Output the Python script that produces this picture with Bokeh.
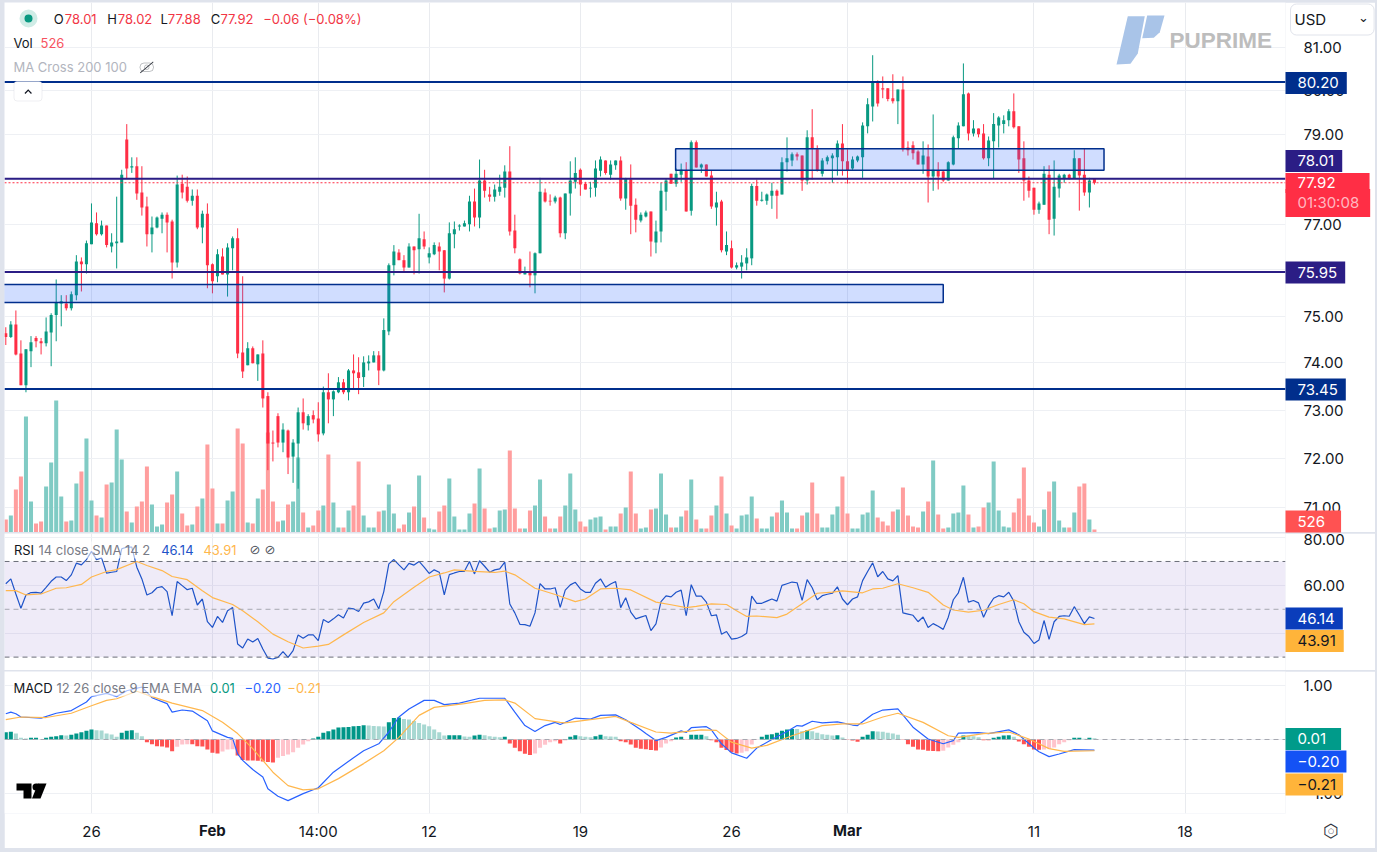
from bokeh.plotting import figure
from bokeh.layouts import column
from bokeh.embed import file_html
from bokeh.resources import INLINE
from bokeh.models import (Range1d, FixedTicker, NumeralTickFormatter, Span, Label, LinearScale,
                          BoxAnnotation, PolyAnnotation, ColumnDataSource)

# ---------- candles (WTI, 4-hour bars) ----------
opens = [74.63,74.55,74.82,74.20,73.53,74.25,74.53,74.46,74.42,74.65,
75.02,75.27,75.27,75.17,75.45,76.18,76.12,76.56,77.02,76.78,
76.97,76.51,76.58,76.60,78.89,78.26,78.29,77.70,77.39,76.78,
76.93,77.12,77.21,77.06,76.16,77.90,77.83,77.52,77.63,76.93,
77.23,76.12,75.86,76.29,75.90,76.47,76.69,74.22,73.95,74.31,
73.97,74.20,73.30,72.33,72.88,72.33,72.58,72.04,72.31,72.96,
72.69,72.90,72.83,72.52,73.38,73.23,73.38,73.59,73.38,73.84,
73.80,73.70,73.99,74.01,74.16,73.84,74.67,76.10,76.38,76.21,
76.05,76.51,76.45,76.67,76.27,76.34,76.51,76.43,75.81,76.78,
76.95,76.95,77.00,77.50,77.15,77.97,77.66,77.61,77.72,77.81,
78.17,76.86,76.23,75.90,75.96,75.88,76.36,77.70,77.52,77.50,
77.59,76.80,77.68,77.94,78.21,77.90,77.79,77.81,78.19,78.42,
78.10,78.31,78.42,77.57,77.99,77.43,77.08,77.17,77.28,76.60,
76.84,77.72,78.12,77.90,78.10,78.19,77.30,78.83,78.26,78.33,
78.08,77.37,77.50,76.40,76.47,76.05,76.07,76.14,76.25,77.85,
77.52,77.52,77.63,77.74,77.66,78.38,78.42,78.56,78.53,77.97,
78.94,78.67,78.12,78.40,78.47,78.49,78.80,78.40,78.24,78.42,
78.49,79.19,79.64,80.19,80.06,80.06,79.83,79.76,80.03,78.71,
78.76,78.62,78.33,78.51,78.06,78.19,78.17,77.97,78.33,78.92,
79.19,79.94,79.03,79.14,79.03,78.47,78.85,79.21,79.24,79.33,
79.53,79.19,78.47,77.97,77.81,77.32,77.43,78.10,77.12,77.79,
78.01,78.10,78.01,78.47,78.10,77.70,78.01]
highs = [74.76,74.89,75.12,74.48,74.29,74.57,74.57,74.53,74.97,75.06,
75.79,75.45,75.45,75.53,76.32,76.27,76.64,77.46,77.26,77.08,
76.97,76.80,77.61,78.21,79.24,78.49,78.49,78.29,77.61,77.17,
77.17,77.26,77.26,77.10,78.08,78.10,78.06,77.77,77.77,77.30,
77.46,76.14,76.45,76.47,76.58,76.73,76.91,75.86,74.44,74.35,
74.18,74.48,73.38,72.58,72.94,72.73,72.60,72.40,73.06,73.25,
72.92,73.00,73.17,73.50,73.78,73.42,73.70,73.66,73.87,74.18,
74.12,74.14,74.16,74.25,74.25,74.95,76.14,76.54,76.45,76.32,
76.58,76.51,77.23,76.84,76.49,76.60,76.60,76.43,77.04,77.06,
77.00,77.08,77.63,77.79,78.44,78.21,77.83,77.88,78.10,78.31,
78.74,77.21,76.25,76.07,76.40,76.38,78.03,77.79,77.66,77.63,
77.61,77.68,78.40,78.49,78.24,77.94,77.94,78.42,78.51,78.42,
78.42,78.42,78.51,78.03,78.33,77.57,77.26,77.30,77.28,77.08,
77.92,78.01,78.12,78.24,78.35,78.38,78.87,78.87,78.35,78.33,
78.19,77.72,77.54,76.84,76.64,76.16,76.32,76.47,77.90,77.99,
77.72,77.68,77.92,77.77,78.49,78.94,78.60,78.60,78.53,79.10,
79.58,78.76,78.47,78.53,78.58,78.87,79.24,78.67,78.51,78.53,
79.28,79.83,80.82,80.24,80.33,80.06,80.38,80.03,80.33,78.85,
78.85,78.65,78.85,78.78,79.46,78.38,78.19,78.40,78.98,79.28,
80.63,79.96,79.33,79.14,79.24,78.96,79.49,79.42,79.44,79.58,
79.94,79.19,78.85,78.06,77.81,77.50,78.29,78.31,78.42,78.12,
78.12,78.12,78.65,78.47,78.69,78.03,78.02]
lows = [74.38,74.53,74.16,73.53,73.38,73.91,74.33,74.18,74.35,73.93,
74.46,74.78,75.12,75.12,75.34,75.53,75.92,76.56,76.75,76.75,
76.49,76.38,76.03,76.60,78.01,78.14,77.54,77.19,76.51,76.38,
76.91,76.80,76.38,75.81,76.05,77.57,77.48,77.41,76.89,76.58,
75.60,75.49,75.73,75.90,75.42,75.99,74.10,73.68,73.95,73.99,
73.62,73.06,71.76,71.94,72.23,72.13,71.68,71.50,71.38,72.60,
72.58,72.73,72.35,72.48,72.73,72.88,73.36,73.34,73.21,73.45,
73.34,73.49,73.84,74.01,73.53,73.82,74.59,75.88,76.21,75.94,
76.05,75.90,75.92,76.45,76.14,76.32,75.99,75.51,75.79,76.47,
76.86,76.95,76.84,76.95,76.91,77.59,77.50,77.50,77.63,77.59,
76.75,76.36,75.90,75.90,75.62,75.49,76.36,77.48,77.41,77.46,
76.71,76.67,77.19,77.79,77.63,77.77,77.59,77.61,78.06,78.10,
77.99,78.21,77.52,77.32,76.78,76.82,77.04,77.15,76.29,76.36,
76.60,77.30,77.90,77.83,77.94,77.28,77.19,78.26,78.14,78.06,
77.34,76.97,76.38,76.32,76.03,76.01,75.81,75.99,76.10,77.41,
77.50,77.43,77.34,77.12,77.66,78.17,78.29,78.42,77.74,77.88,
77.99,78.17,78.06,78.33,77.92,78.08,78.08,77.90,78.21,78.38,
78.03,79.03,79.30,79.64,79.83,79.76,79.71,79.24,78.62,78.53,
78.44,78.33,78.12,77.48,77.74,77.77,77.94,77.97,78.31,78.69,
79.19,78.87,78.96,78.94,78.44,78.29,78.01,78.71,79.03,79.19,
79.14,78.14,77.52,77.59,77.21,77.23,77.43,76.78,76.75,77.59,
77.92,77.99,78.01,77.30,77.63,77.37,77.88]
closes = [74.55,74.82,74.18,73.53,74.29,74.44,74.46,74.42,74.67,75.02,
75.30,75.32,75.17,75.47,76.18,76.12,76.58,77.04,76.78,76.97,
76.54,76.60,76.62,78.10,78.24,78.29,77.68,77.37,76.78,76.93,
77.15,77.21,77.04,76.16,77.88,77.70,77.52,77.63,76.93,77.23,
76.10,75.75,76.34,75.90,76.49,76.69,74.20,73.82,74.31,73.99,
74.18,73.25,72.31,72.31,72.33,72.60,72.02,72.33,72.96,72.73,
72.88,72.81,72.50,73.38,73.23,73.40,73.59,73.38,73.84,73.78,
73.68,74.01,74.03,74.16,73.84,74.70,76.10,76.40,76.21,76.05,
76.51,76.43,76.69,76.51,76.36,76.54,76.40,75.81,76.80,76.89,
76.97,77.02,77.50,77.15,77.97,77.74,77.61,77.77,77.83,78.17,
76.84,76.47,75.92,75.94,75.88,76.36,77.72,77.50,77.50,77.59,
76.80,77.68,77.97,78.14,77.88,77.77,77.81,78.24,78.44,78.14,
78.33,78.42,77.57,78.01,77.41,77.10,77.21,77.26,76.62,76.84,
77.74,77.97,77.90,78.12,78.21,77.28,78.83,78.26,78.33,78.06,
77.39,77.48,76.43,76.54,76.05,76.10,76.16,76.27,77.85,77.52,
77.54,77.66,77.74,77.63,78.38,78.47,78.56,78.51,77.97,78.94,
78.69,78.19,78.42,78.49,78.53,78.80,78.40,78.19,78.44,78.51,
79.21,79.69,80.19,79.71,80.03,79.81,79.76,80.03,78.67,78.65,
78.58,78.33,78.53,78.06,78.21,78.06,77.97,78.38,78.94,79.21,
79.92,79.03,79.14,79.01,78.47,78.87,79.24,79.39,79.33,79.53,
79.17,78.44,77.97,77.74,77.32,77.46,78.12,77.10,77.83,78.08,
78.10,78.01,78.47,78.08,77.70,77.97,77.92]

# volume, in units of roughly 175 lots per unit (the last bar, 526 lots, is about 3)
volumes = [13,17,43,56,116,31,9,11,46,70,132,36,11,12,49,61,94,32,17,15,
48,50,103,73,21,10,26,31,66,28,6,8,30,38,61,19,7,8,26,34,
88,44,9,9,32,41,104,89,10,9,34,43,100,31,11,12,28,31,75,20,
5,7,22,27,78,30,5,5,22,27,71,17,5,5,21,22,48,19,4,8,
20,26,57,15,4,3,21,27,54,16,3,3,19,29,64,24,4,5,22,23,
82,24,4,4,22,27,53,16,4,4,16,27,59,23,11,6,13,15,16,3,
6,6,19,25,61,19,4,5,23,24,59,18,5,5,16,22,53,13,4,4,
17,27,56,19,7,4,17,18,36,14,4,4,16,20,32,20,4,4,17,20,
50,19,5,5,18,26,56,19,4,4,18,20,42,15,11,7,21,23,45,17,
6,5,21,31,72,18,4,5,19,20,47,18,5,6,25,30,71,22,6,5,
20,34,65,17,10,6,23,41,51,12,5,5,20,46,49,13,3]

# ---------- RSI ----------
rsi_values = [60.7,62.7,56.4,50.4,56,57,57.1,56.8,59.2,61.7,63.5,63.5,62,64.4,69.3,68.6,70.8,74.2,70.8,71.5,
65.1,65.5,65.8,75.3,76,76,67.6,62.7,56,56.9,59,59.5,57.4,47.3,61.6,59.9,58.2,58.8,51.8,54.3,
44.8,42.4,47,44.5,49.4,50.8,35.5,33.8,37.6,36.3,37.8,33.4,29.6,29.2,29.9,32.3,29.9,32.7,39.3,37.9,
39.3,39.3,36.9,45.7,44.5,46,47.7,46.4,50.5,50.2,49.1,52.6,53.1,54.3,50.2,57.4,69,70.8,68.6,66.5,
69.2,68.5,70,67.6,65,66.5,65.5,56,64.5,65.2,65.8,65.9,70,64.8,70.3,68,65.5,66.5,66.9,69.7,
52.2,48.5,43.7,43.6,42.9,48.5,60.7,58.5,58.5,59,50.8,58,60.2,61.3,58.5,57.1,57.1,60.9,62.7,59.2,
60.6,61.6,50.7,54.8,48.8,46,46.7,47.4,41.1,43.9,53.2,55.6,55.2,57.1,58,47.3,60.3,55.5,55.5,53,
47.3,47.7,39.6,40.7,37.5,37.8,38.6,40,55.5,52.5,52.5,53.4,54.3,53.4,60,60.7,61.4,61.1,53.7,62.4,
59,54,55.7,56.3,56.7,59.4,54.3,51.9,54.3,55.2,62,65.8,69.4,63.6,65.8,62.7,61.9,64.1,48.5,48,
47.5,44.8,46.8,42.4,44,42.9,41.6,46.7,54,56.9,63.4,53,53.7,52.7,46.7,51.3,54.6,55.7,55.2,57.1,
53.4,44.8,40.4,38.6,35.7,37.2,45.3,37.4,44.8,47,47.3,47.1,51.1,47.6,44,46.8,46.14]
sma_bars = [0,2,4,7,10,12,15,17,20,22,26,28,31,33,36,39,41,45,47,50,53,56,59,62,64,67,71,75,77,81,84,87,89,93,97,99,101,105,
109,113,115,118,121,124,129,132,135,137,140,143,145,147,149,153,155,158,161,164,166,170,172,174,177,180,183,186,188,191,194,197,200,202,204,207,210,214,216]
sma_values = [57.8,57.8,56,56.4,58.8,59,60.4,63.5,65.8,66.6,70,68.3,66.2,63.7,62.4,57.8,54.9,52,49.4,44.8,39.6,36.4,33.8,34.6,35.3,39.3,44.5,48.5,53.2,59.2,63.5,65.2,66.5,65.9,65.4,66,64.4,58.8,
56.2,53.2,54.3,58.5,58.8,58.1,53,51.9,50.7,51.2,52.3,52,49.4,47,47.2,46.5,48,52.3,56.7,57.2,57.7,56.9,58.5,58.8,60.7,59,57.1,51.8,49.7,48.8,49.6,52,54,52.3,49,46.7,46,43.6,43.91]

# ---------- MACD ----------
macd_bars = [0,1,2,3,7,10,13,16,17,20,22,24,27,29,32,33,35,37,40,41,44,45,46,47,49,51,52,54,56,59,62,65,69,71,74,76,78,80,83,85,87,90,94,99,101,103,105,107,109,
110,113,116,118,121,123,126,127,129,131,134,135,136,139,140,142,144,147,149,152,155,157,158,160,162,165,168,169,172,174,177,180,183,186,188,189,193,195,199,201,204,205,207,209,212,216]
macd_values = [.48,.51,.48,.42,.40,.49,.54,.70,.80,.86,.80,.91,.98,.78,.67,.51,.55,.53,.35,.16,.04,.02,-.27,-.39,-.56,-.70,-.92,-1.06,-1.14,-1.01,-.90,-.61,-.34,-.21,-.08,.14,.42,.57,.73,.73,.65,.68,.77,.77,.51,.26,.15,.26,.32,
.28,.40,.38,.45,.46,.37,.18,.11,-.02,.04,.16,.13,.22,.24,.18,-.08,-.25,-.35,-.16,0,.15,.26,.25,.34,.31,.33,.27,.26,.47,.55,.57,.23,.01,-.08,-.02,.12,.13,.11,.18,.09,-.16,-.23,-.32,-.27,-.19,-.20]
signal_bars = [0,3,8,13,17,20,22,26,29,33,39,43,46,49,53,56,59,62,66,71,75,78,82,85,91,95,99,101,105,110,
111,116,121,124,129,132,138,141,144,148,151,156,162,166,170,174,177,182,187,189,194,199,203,207,210,216]
signal_values = [.37,.42,.41,.49,.63,.73,.76,.90,.80,.68,.54,.32,.11,-.17,-.61,-.86,-.94,-.92,-.73,-.45,-.21,.04,.45,.60,.67,.73,.74,.68,.39,.32,
.31,.37,.43,.32,.14,.12,.18,.17,-.05,-.16,-.11,.07,.26,.29,.29,.42,.49,.32,.07,.04,.11,.14,.01,-.17,-.22,-.21]
# histogram, in thousandths
hist_milli = [136,143,112,31,19,31,31,6,31,50,62,81,74,87,112,136,161,186,174,167,
112,93,50,124,161,174,124,62,-50,-87,-124,-130,-149,-217,-136,-93,-87,-87,-124,-130,
-186,-248,-260,-223,-186,-180,-298,-384,-391,-391,-397,-409,-422,-428,-341,-310,-279,-236,-155,-93,
-31,19,50,124,155,186,223,229,232,248,254,267,260,254,248,242,322,403,409,384,
372,347,310,279,248,186,136,74,81,81,81,56,50,74,87,81,62,50,43,50,
-74,-155,-217,-267,-291,-260,-155,-99,-50,-31,-74,-19,50,81,62,50,43,62,87,62,
56,50,-31,-50,-93,-155,-174,-180,-198,-205,-149,-74,-31,37,50,-6,87,87,90,62,
-12,-50,-155,-198,-236,-260,-248,-217,-93,-6,50,87,99,124,161,186,198,195,155,174,
155,124,99,87,74,78,37,-6,-19,-43,50,87,155,149,143,124,112,87,-6,-87,
-136,-186,-192,-211,-214,-217,-211,-149,-99,-50,74,68,62,43,-12,-16,31,50,74,81,
50,-37,-87,-136,-186,-192,-186,-174,-149,-87,-50,-12,31,34,12,31,25]

# ---------- axes, levels and labels ----------
x_tick_bars = [17,41,62,84,114,144,167,204,234]
x_tick_text = ["26","Feb","14:00","12","19","26","Mar","11","18"]
bold_ticks = ["Feb","Mar"]
price_ticks = [71,72,73,74,75,76,77,78,79,80,81]
rsi_ticks = [80,60,40]
macd_ticks = [1,0,-1]
navy_levels = [80.20,73.45]
purple_levels = [78.01,75.95]
last_price = 77.92
zone_left = [132.9,-2]
zone_right = [217.9,186]
zone_top = [78.68,75.68]
zone_bottom = [78.20,75.29]

GREEN, RED = "#089981", "#FF2E45"
VOL_G, VOL_R = "#80CBC4", "#FF9E9E"
GRID = "#EEF0F4"
NAVY, PURPLE = "#002E8C", "#2B1D85"
RSI_BLUE, ORANGE = "#1E53C8", "#FFB74D"
FONT = "Inter"
INK = "#131722"
WIDTH, RIGHT = 1371, 90
FRAME_W = WIDTH - RIGHT
BAR_PX = 5.04
n = len(closes)
bars = list(range(n))
x_left = -0.258
x_range = Range1d(x_left, x_left + FRAME_W / BAR_PX)


def base(height, y_range, **kw):
    f = figure(width=WIDTH, height=height, x_range=x_range, y_range=y_range, y_axis_location="right",
               toolbar_location=None, output_backend="svg", min_border_left=0, min_border_right=RIGHT,
               min_border_top=0, background_fill_color="white", border_fill_color="white",
               outline_line_color=None, tools="", **kw)
    f.xgrid.ticker = FixedTicker(ticks=x_tick_bars)
    f.xgrid.grid_line_color = "#E9EBEF"
    f.ygrid.grid_line_color = GRID
    ax = f.yaxis[0]
    ax.axis_line_color = None
    ax.major_tick_line_color = None
    ax.minor_tick_line_color = None
    ax.major_label_text_font = FONT
    ax.major_label_text_font_size = "15px"
    ax.major_label_text_color = INK
    ax.major_label_standoff = 12
    return f


# A transparent sheet over the whole page holds the legends, price tags and marks,
# since annotations inside a chart figure are cut at its plot frame.
sheet = figure(width=1377, height=852, x_range=Range1d(0, 1377), y_range=Range1d(0, 852),
               toolbar_location=None, output_backend="svg", min_border=0, x_axis_location=None,
               y_axis_location=None, outline_line_color=None, background_fill_alpha=0, border_fill_alpha=0,
               tools="", styles={"position": "fixed", "left": "0", "top": "0"})
sheet.grid.visible = False


def sx(x):
    return x


def sy(y):
    return 852 - y


def text(x, y, s, color=INK, size="13px", font=FONT, style="normal", align="left", **kw):
    sheet.add_layout(Label(x=sx(x), y=sy(y), x_units="screen", y_units="screen", text=s,
                           text_color=color, text_font=font, text_font_size=size, text_font_style=style,
                           text_align=align, text_baseline="middle", **kw))


def tag(y, s, bg, fg="white", right=8, left=12, pad_top=5, pad_bottom=6):
    text(1285, y, s, color=fg, size="15px", background_fill_color=bg, padding=(left, right, pad_top, pad_bottom))


def poly(pts, fill=INK):
    sheet.add_layout(PolyAnnotation(xs=[sx(a) for a, _ in pts], ys=[sy(b) for _, b in pts],
                                    xs_units="screen", ys_units="screen", fill_color=fill, fill_alpha=1,
                                    line_color=None))


def box(x0, y0, x1, y1, fill="white", alpha=1.0, line=None, radius=0):
    sheet.add_layout(BoxAnnotation(left=sx(x0), right=sx(x1), top=sy(y0), bottom=sy(y1),
                                   left_units="screen", right_units="screen", top_units="screen",
                                   bottom_units="screen", fill_color=fill, fill_alpha=alpha,
                                   line_color=line, line_width=1, border_radius=radius, editable=False))


# ---------- main pane ----------
main = base(530, Range1d(70.49, 82.05), y_axis_type="log", x_axis_location=None, min_border_bottom=0,
            margin=(2, 2, 0, 4))
main.yaxis[0].ticker = FixedTicker(ticks=price_ticks)
main.yaxis[0].formatter = NumeralTickFormatter(format="0.00")
main.ygrid.ticker = FixedTicker(ticks=price_ticks)
main.extra_y_ranges = {"vol": Range1d(0, 530)}
main.extra_y_scales = {"vol": LinearScale()}

up = [c >= o for o, c in zip(opens, closes)]
candle = ColumnDataSource(dict(
    x=bars, o=opens, h=highs, l=lows, c=closes, v=volumes,
    top=[max(a, b) for a, b in zip(opens, closes)], bottom=[min(a, b) for a, b in zip(opens, closes)],
    color=[GREEN if u else RED for u in up], vcolor=[VOL_G if u else VOL_R for u in up]))
main.vbar(x="x", width=0.8, top="v", bottom=0, fill_color="vcolor", line_color=None, source=candle, y_range_name="vol")
main.segment(x0="x", y0="l", x1="x", y1="h", line_color="color", line_width=1, source=candle)
main.vbar(x="x", width=0.6, top="top", bottom="bottom", fill_color="color", line_color=None, source=candle)
main.quad(left=zone_left, right=zone_right, top=zone_top, bottom=zone_bottom, fill_color="#2962FF", fill_alpha=0.22,
          line_color=NAVY, line_width=1.5)
for lv in navy_levels:
    main.add_layout(Span(location=lv, dimension="width", line_color=NAVY, line_width=2))
for lv in purple_levels:
    main.add_layout(Span(location=lv, dimension="width", line_color=PURPLE, line_width=2))
main.add_layout(Span(location=last_price, dimension="width", line_color=RED, line_width=1, line_dash="2 2"))

box(19, 9, 37, 27, fill="#CFECE6", radius=9)
box(24, 14, 32, 22, fill=GREEN, radius=4)
for x, s, col in [(53.3, "O", INK), (64.3, "78.01", "#F23645"), (106.7, "H", INK), (117.3, "78.02", "#F23645"),
                  (160, "L", INK), (167.3, "77.88", "#F23645"), (210.3, "C", INK), (220, "77.92", "#F23645"),
                  (262.7, "\u22120.06 (\u22120.08%)", "#F23645")]:
    text(x, 18, s, col)
text(13, 42, "Vol")
text(40, 42, "526", "#F7525F")
text(13, 66, "MA Cross 200 100", "#B2B5BE")
box(139.5, 62.5, 153, 71, fill="white", line="#30343D", radius=4)
box(144, 64.5, 148.5, 69, fill="white", line="#30343D", radius=2)
poly([(139.5, 72), (152.5, 61), (153, 61.7), (140, 72.7)], fill="#30343D")
box(13.5, 81, 41.5, 100.5, fill="white", line="#C9CBD3", radius=3)
poly([(24, 92.6), (27.7, 88.8), (31.4, 92.6), (30.5, 93.4), (27.7, 90.6), (24.9, 93.4)], fill=INK)
# PU Prime mark
poly([(1127.3, 15.7), (1144.3, 15.7), (1137.3, 53), (1130, 63.3), (1116, 64)], fill="#A9C4E8")
poly([(1146.7, 15), (1164, 15), (1159.3, 31.7), (1153.3, 37.3), (1141.7, 37.7)], fill="#A9C4E8")
text(1169, 40, "PUPRIME", "#BDBDBD", size="22.5px", font="Liberation Sans", style="bold")
# price scale controls and tags
text(1290, 19, "USD", size="15px", border_line_color="#E0E3EB", border_radius=6, padding=(4, 48, 6, 6))
text(1363, 17, "\u2304", size="13px", font="DejaVu Sans", align="center")
tag(82.5, "80.20", NAVY)
tag(160.5, "78.01", PURPLE)
tag(182.5, "77.92", RED, right=34, pad_top=4, pad_bottom=5)
tag(202.5, "01:30:08", RED, fg="#FFB8C0", right=11, pad_top=4, pad_bottom=5)
tag(272, "75.95", PURPLE)
tag(389, "73.45", NAVY)
tag(521, "526", "#FF5252", right=16)

# ---------- RSI pane ----------
rsi = base(137, Range1d(24.4, 81.7), x_axis_location=None, min_border_bottom=0, margin=(1, 2, 0, 4))
rsi.yaxis[0].ticker = FixedTicker(ticks=[80, 60])
rsi.yaxis[0].formatter = NumeralTickFormatter(format="0.00")
rsi.ygrid.ticker = FixedTicker(ticks=rsi_ticks)
rsi.add_layout(BoxAnnotation(bottom=30, top=70, fill_color="#7E57C2", fill_alpha=0.12, line_color=None, level="underlay"))
rsi.add_layout(Span(location=70, dimension="width", line_color="#6A6D78", line_width=1, line_dash="5 4"))
rsi.add_layout(Span(location=30, dimension="width", line_color="#6A6D78", line_width=1, line_dash="5 4"))
rsi.add_layout(Span(location=50, dimension="width", line_color="#A6A8B1", line_width=1, line_dash="5 4"))
rsi.line(bars, rsi_values, line_color=RSI_BLUE, line_width=1.2)
rsi.line(sma_bars, sma_values, line_color=ORANGE, line_width=1.2)
box(13, 541, 152, 558, alpha=0.6)
text(13.4, 549, "RSI")
text(38, 549, "14 close SMA 14 2", "#787B86")
text(160.7, 549, "46.14", RSI_BLUE)
text(202.9, 549, "43.91", ORANGE)
text(249, 549, "\u2298", "#50535E", font="DejaVu Sans")
text(264, 549, "\u2298", "#50535E", font="DejaVu Sans")
tag(618, "46.14", "#0A3DBB")
tag(640.5, "43.91", "#FFB43A", fg=INK)

# ---------- MACD pane ----------
macd = base(177, Range1d(-1.381, 1.269), min_border_bottom=35, margin=(1, 2, 4, 4))
macd.yaxis[0].ticker = FixedTicker(ticks=macd_ticks)
macd.yaxis[0].formatter = NumeralTickFormatter(format="0.00")
macd.yaxis[0].major_label_overrides = {1: "1.00", 0: "0.00", -1: "\u22121.00"}
macd.ygrid.ticker = FixedTicker(ticks=macd_ticks)
xa = macd.xaxis[0]
xa.ticker = FixedTicker(ticks=x_tick_bars)
xa.major_label_overrides = {b: ("" if t in bold_ticks else t) for b, t in zip(x_tick_bars, x_tick_text)}
xa.axis_line_color = None
xa.major_tick_line_color = None
xa.minor_tick_line_color = None
xa.major_label_text_font = FONT
xa.major_label_text_font_size = "15px"
xa.major_label_text_color = INK
xa.major_label_standoff = 2

hist = [h / 1000 for h in hist_milli]
hist_color = []
for i, v in enumerate(hist):
    prev = hist[i - 1] if i else 0
    if v >= 0:
        hist_color.append("#009688" if v >= prev else "#A8D8D2")
    else:
        hist_color.append("#FF5252" if v <= prev else "#FFC4CC")
macd.add_layout(Span(location=0, dimension="width", line_color="#A6A8B1", line_width=1, line_dash="5 4"))
macd.vbar(x=bars, width=0.8, top=hist, bottom=0, fill_color=hist_color, line_color=None)
macd.line(macd_bars, macd_values, line_color="#2962FF", line_width=1.2)
macd.line(signal_bars, signal_values, line_color=ORANGE, line_width=1.2)
box(13, 679, 308, 696, alpha=0.6)
text(13, 687, "MACD")
text(56, 687, "12 26 close 9 EMA EMA", "#787B86")
text(209.6, 687, "0.01", GREEN)
text(244, 687, "\u22120.20", "#2962FF")
text(286.8, 687, "\u22120.21", ORANGE)
tag(738.5, "0.01", "#009B8A", right=15)
tag(761, "\u22120.20", "#1452F5", right=7)
tag(784, "\u22120.21", "#FFB43A", fg=INK, right=7)
# TradingView mark
poly([(16, 783), (31, 783), (31, 798), (23, 798), (23, 790), (16, 790)], fill="#000000")
box(32, 783, 40, 790, fill="#000000", radius=4)
poly([(46, 783), (40, 798), (31.5, 798), (37.5, 783)], fill="#000000")
for b, t in zip(x_tick_bars, x_tick_text):
    if t in bold_ticks:
        text(4 + (b - x_left) * BAR_PX, 830, t, size="15px", style="bold", align="center")
text(1330.5, 830, "\u2b21", "#30343D", size="18px", font="DejaVu Sans", align="center")
text(1330.5, 830, "\u25cb", "#30343D", size="7px", font="DejaVu Sans", align="center")

page = column(main, rsi, macd, spacing=0, width=1377, height=852,
              styles={"position": "fixed", "left": "0", "top": "0", "background": "#DFE3EC"})
open("out.html", "w").write(file_html([page, sheet], INLINE))
